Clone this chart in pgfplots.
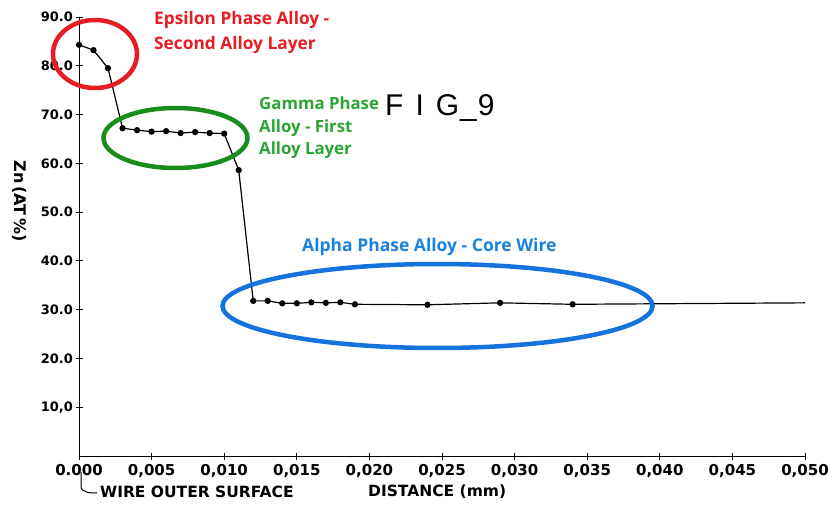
\documentclass[border=0pt]{standalone}
\usepackage{fontspec}
\setmainfont{DejaVu Sans}
\newfontfamily\annfont{Open Sans}
\newfontfamily\figfont{Liberation Sans}
\usepackage{pgfplots}
\pgfplotsset{compat=1.18}
\definecolor{annred}{RGB}{232,28,36}
\definecolor{anngreen}{RGB}{40,165,50}
\definecolor{ringgreen}{RGB}{25,140,30}
\definecolor{annblue}{RGB}{25,130,225}
\definecolor{ringblue}{RGB}{20,115,220}
\begin{document}
\begin{tikzpicture}
\path[use as bounding box] (0,0) rectangle (833pt,504pt);
\begin{axis}[
  at={(79pt,48pt)}, anchor=south west,
  scale only axis, width=726pt, height=439pt,
  xmin=0, xmax=0.05, ymin=0, ymax=90,
  axis x line=bottom, axis y line=left,
  axis line style={-, line width=1pt, black},
  xtick={0,0.005,0.010,0.015,0.020,0.025,0.030,0.035,0.040,0.045,0.050},
  xticklabels={0.000,{0,005},{0,010},{0,015},{0,020},{0,025},{0,030},{0,035},{0,040},{0,045},{0,050}},
  ytick={10,20,30,40,50,60,70,80,90},
  yticklabels={{10,0},20.0,30.0,40.0,50.0,60.0,70.0,80.0,90.0},
  scaled x ticks=false,
  tick align=center, major tick length=7pt,
  tick style={line width=0.9pt, black},
  /pgf/number format/assume math mode=true,
  xticklabel style={font=\bfseries\fontsize{15}{17}\selectfont, yshift=-1pt},
  yticklabel style={font=\bfseries\fontsize{13}{15}\selectfont, xshift=1pt},
  clip=false,
]
\addplot[black, line width=1.2pt, mark=*, mark size=2.5pt] coordinates {
 (0.000,84.3) (0.001,83.2) (0.002,79.5) (0.003,67.2) (0.004,66.8)
 (0.005,66.5) (0.006,66.6) (0.007,66.2) (0.008,66.4) (0.009,66.2)
 (0.010,66.1) (0.011,58.6) (0.012,31.8) (0.013,31.8) (0.014,31.3)
 (0.015,31.3) (0.016,31.5) (0.017,31.4) (0.018,31.5) (0.019,31.1)
 (0.024,31.0) (0.029,31.4) (0.034,31.1)
};
\addplot[black, line width=1.2pt, no marks] coordinates {
 (0.034,31.1) (0.050,31.4)
};
\end{axis}
% y label
\node[rotate=-90, font=\bfseries\fontsize{16}{18}\selectfont] at (20pt,303pt) {Zn\,(AT\,\%)};
% bottom texts
\draw[line width=1pt] (81pt,32pt) -- (81pt,18pt) to[out=-90,in=180] (97pt,11pt);
\node[anchor=west, font=\bfseries\fontsize{15.5}{17}\selectfont, inner sep=0pt] at (100pt,12pt) {WIRE OUTER SURFACE};
\node[anchor=west, font=\bfseries\fontsize{15.5}{17}\selectfont, inner sep=0pt] at (368pt,12pt) {DISTANCE (mm)};
% FIG 9
\node[anchor=west, font=\figfont\fontsize{30}{32}\selectfont, inner sep=0pt] at (385pt,396pt) {F\hspace{12pt}I\hspace{12pt}G\hspace{1pt}\_\hspace{1pt}9};
% ellipses
\draw[annred, line width=4.5pt] (95pt,450pt) ellipse [x radius=42pt, y radius=34pt];
\draw[ringgreen, line width=4.5pt] (175.5pt,366pt) ellipse [x radius=72pt, y radius=30pt];
\draw[ringblue, line width=4.5pt] (437.5pt,198pt) ellipse [x radius=215pt, y radius=42pt];
% annotation texts
\node[anchor=west, align=left, text=annred, font=\annfont\bfseries\fontsize{17.3}{25}\selectfont, inner sep=0pt] at (154pt,471.5pt) {Epsilon Phase Alloy -\\Second Alloy Layer};
\node[anchor=west, align=left, text=anngreen, font=\annfont\bfseries\fontsize{16.8}{22.5}\selectfont, inner sep=0pt] at (259pt,376pt) {Gamma Phase\\Alloy - First\\Alloy Layer};
\node[anchor=west, text=annblue, font=\annfont\bfseries\fontsize{17.5}{19}\selectfont, inner sep=0pt] at (302pt,257pt) {Alpha Phase Alloy - Core Wire};
\end{tikzpicture}
\end{document}
